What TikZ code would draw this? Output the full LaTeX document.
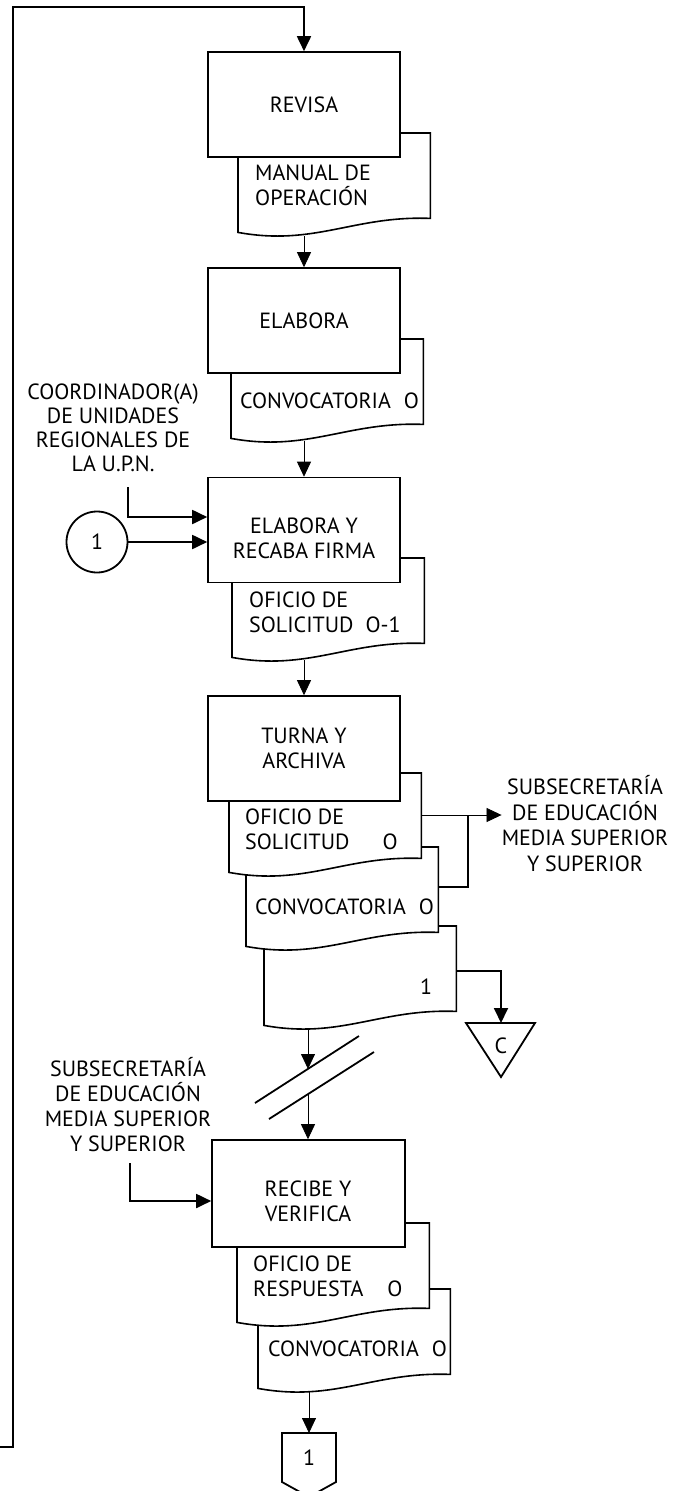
\documentclass[tikz,border=0pt]{standalone}
\usepackage{fontspec}
\setmainfont{PT Sans}
\usetikzlibrary{arrows.meta,calc}
\newcommand\docshape[3]{%
  \node[docarea] (#1) at (#2,#3) {};
  \path[docline] (#1.north west) -- (#1.north east) -- ($(#1.south east)+(0,-14)$)
    .. controls ($(#1.south east)+(-76.8,-17)$) and ($(#1.south west)+(76.8,14)$) .. (#1.south west) -- cycle;
}
\begin{document}
\begin{tikzpicture}[x=1pt,y=-1pt,
  lbl/.style={font=\fontsize{22}{25}\selectfont, inner sep=0pt, align=center},
  doctext/.style={lbl, align=left, anchor=west},
  procbox/.style={draw, line width=1.6pt, fill=white, minimum width=192pt, minimum height=105pt, inner sep=0pt, lbl},
  docarea/.style={minimum width=192pt, minimum height=99pt, inner sep=0pt, anchor=north west},
  docline/.style={draw, line width=1.6pt, fill=white, line join=miter},
  tip/.style={-{Triangle[length=15pt,width=14pt]}},
  thinarrow/.style={line width=0.8pt, tip},
  thickarrow/.style={line width=1.8pt, tip},
  thickline/.style={line width=1.8pt},
  thinline/.style={line width=0.8pt},
]
\useasboundingbox (0,0) rectangle (677,1491);

% ---- REVISA ----
\docshape{d1}{238}{133}
\node[procbox] (b1) at (304,104.5) {REVISA};
\node[doctext] (t1) at (255,185.5) {MANUAL DE\\OPERACIÓN};

% ---- ELABORA ----
\docshape{d2}{231}{339}
\node[procbox] (b2) at (304,320.5) {ELABORA};
\node[doctext] (t2) at (240,401) {CONVOCATORIA\hspace{13pt}O};

% ---- ELABORA Y RECABA FIRMA ----
\docshape{d3}{232}{558}
\node[procbox] (b3) at (304,530) {};
\node[lbl] (t3a) at (304,538) {ELABORA Y\\RECABA FIRMA};
\node[doctext] (t3) at (249,612.5) {OFICIO DE\\SOLICITUD\hspace{12pt}O-1};

% ---- TURNA Y ARCHIVA ----
\docshape{d6}{264}{926}
\node[lbl] (t6) at (426,987) {1};
\docshape{d5}{246}{847}
\node[doctext] (t5) at (255,907) {CONVOCATORIA\hspace{13pt}O};
\docshape{d4}{229}{773}
\node[doctext] (t4) at (245,829.5) {OFICIO DE\\SOLICITUD\hspace{33pt}O};
\node[procbox] (b4) at (304,748.5) {TURNA Y\\ARCHIVA};

% ---- RECIBE Y VERIFICA ----
\docshape{d8}{258}{1289}
\node[doctext] (t8) at (268,1349) {CONVOCATORIA\hspace{13pt}O};
\docshape{d7}{237}{1223}
\node[doctext] (t7) at (253,1276.5) {OFICIO DE\\RESPUESTA\hspace{24pt}O};
\node[procbox, minimum width=193pt, minimum height=107pt] (b5) at (308.5,1193.5) {};
\node[lbl] (t5a) at (308,1201.5) {RECIBE Y\\VERIFICA};

% ---- external labels ----
\node[lbl, font=\fontsize{22}{24}\selectfont] (coord) at (113,428) {COORDINADOR(A)\\DE UNIDADES\\REGIONALES DE\\LA U.P.N.};
\node[lbl, font=\fontsize{22}{25.5}\selectfont] (sub1) at (585,823.5) {SUBSECRETARÍA\\DE EDUCACIÓN\\MEDIA SUPERIOR\\Y SUPERIOR};
\node[lbl] (sub2) at (128,1104.5) {SUBSECRETARÍA\\DE EDUCACIÓN\\MEDIA SUPERIOR\\Y SUPERIOR};

% connector circle 1
\node[draw, circle, line width=1.8pt, minimum size=61pt, inner sep=0pt, lbl] (con1) at (97,542) {1};

% off-page connector
\coordinate (pgT) at (309,1433);
\draw[thickline, fill=white] (282,1433) -- (336,1433) -- (336,1482) -- (309,1497) -- (282,1482) -- cycle;
\node[lbl] (pg1) at (309,1458) {1};

% archive triangle
\coordinate (triT) at (501,1023);
\draw[thickline] (466,1023) -- (535,1023) -- (501,1077) -- cycle;
\node[lbl] (triC) at (501,1046) {C};

% ---- connectors ----
\coordinate (f0) at (0,1447);
\draw[thickarrow] (f0) -- (13,1447) -- (13,7) -| (b1.north);

\draw[thinarrow] ([yshift=-4pt]d1.south west -| b2.north) -- (b2.north);
\draw[thinarrow] ([yshift=-3pt]d2.south west -| b3.north) -- (b3.north);
\draw[thinarrow] ([yshift=-3pt]d3.south west -| b4.north) -- (b4.north);

\coordinate (cA) at (128,487);
\draw[thickarrow] (cA) |- ([yshift=13pt]b3.west);
\draw[thickarrow] (con1.east) -- (con1.east -| b3.west);

% to subsecretaria (right)
\coordinate (o4) at ([yshift=-42pt]d4.north east);
\draw[thinarrow] (o4) -- (o4 -| sub1.west);
\coordinate (j1) at (468,815);
\draw[thickline] (j1) |- ([yshift=-40pt]d5.north east);

% to archive
\coordinate (o6) at ([yshift=-45pt]d6.north east);
\draw[thickarrow] (o6) -| (triT);

% break
\coordinate (brk1) at (308,1069);
\coordinate (brk2) at (308,1094);
\draw[thinarrow] ([yshift=-4pt]d6.south west -| brk1) -- (brk1);
\draw[thickline] (255,1103) -- (359,1036);
\draw[thickline] (269,1119) -- (374,1052);
\draw[thinarrow] (brk2) -- (brk2 |- b5.north);

\coordinate (cB) at (130,1163);
\draw[thickarrow] (cB) |- ([yshift=-7.5pt]b5.west);

\draw[thinarrow] ([yshift=-4pt]d8.south west -| pgT) -- (pgT);
\end{tikzpicture}
\end{document}
